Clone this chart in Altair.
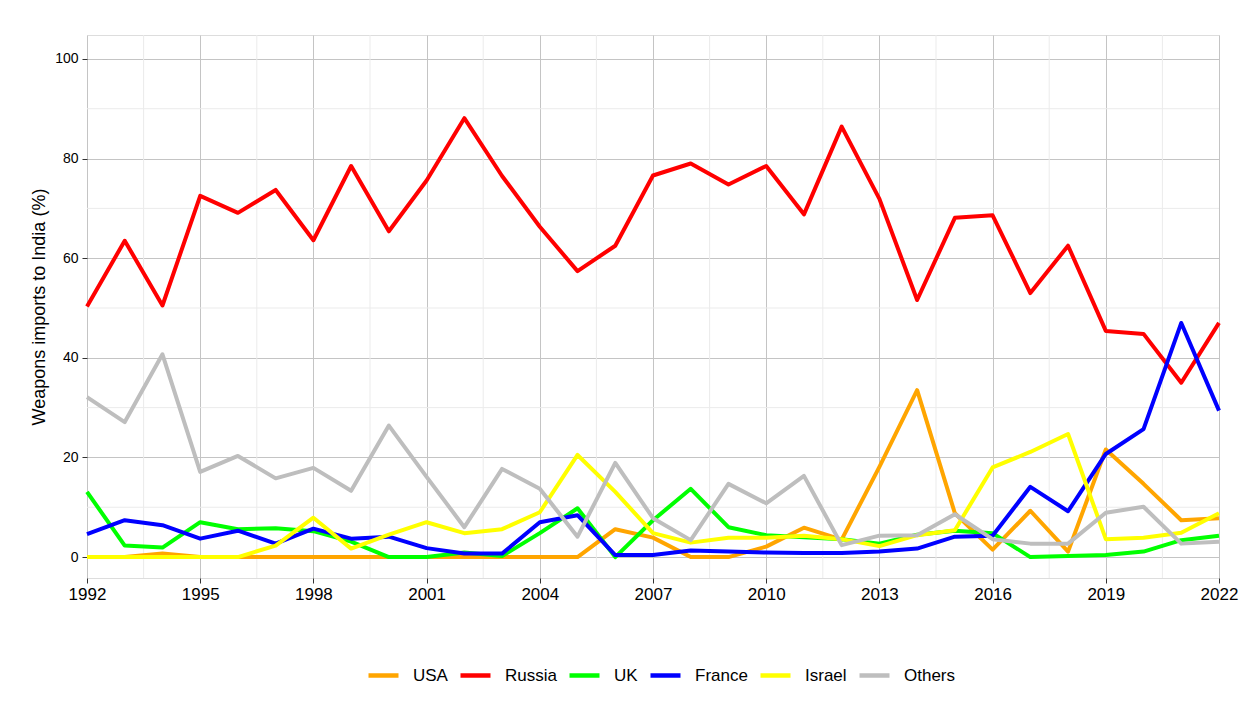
import altair as alt
import pandas as pd

years = [1992, 1993, 1994, 1995, 1996, 1997, 1998, 1999, 2000, 2001,
         2002, 2003, 2004, 2005, 2006, 2007, 2008, 2009, 2010, 2011,
         2012, 2013, 2014, 2015, 2016, 2017, 2018, 2019, 2020, 2021, 2022]

usa = [0.0, 0.0, 0.7, 0.0, 0.0, 0.0, 0.0, 0.0, 0.0, 0.0,
       0.0, 0.0, 0.0, 0.0, 5.6, 3.9, 0.0, 0.0, 2.1, 5.9,
       3.5, 18.1, 33.5, 8.8, 1.5, 9.3, 1.1, 21.6, 14.7, 7.4, 7.8]
russia = [50.3, 63.5, 50.5, 72.5, 69.1, 73.7, 63.6, 78.5, 65.4, 75.6,
          88.1, 76.5, 66.3, 57.4, 62.5, 76.6, 79.0, 74.8, 78.5, 68.8,
          86.4, 71.9, 51.6, 68.1, 68.6, 53.0, 62.5, 45.4, 44.8, 35.0, 47.0]
uk = [13.1, 2.3, 1.9, 7.0, 5.6, 5.8, 5.2, 3.1, 0.0, 0.0,
      0.9, 0.2, 4.8, 9.8, 0.0, 7.4, 13.7, 6.0, 4.4, 4.0,
      3.6, 2.7, 4.5, 5.3, 4.8, 0.0, 0.2, 0.4, 1.1, 3.4, 4.3]
france = [4.6, 7.4, 6.4, 3.7, 5.3, 2.7, 5.7, 3.7, 4.1, 1.8,
          0.7, 0.7, 7.0, 8.4, 0.4, 0.4, 1.3, 1.1, 0.9, 0.8,
          0.8, 1.1, 1.7, 4.1, 4.3, 14.1, 9.2, 20.7, 25.7, 47.0, 29.4]
israel = [0.0, 0.0, 0.0, 0.0, 0.0, 2.3, 7.9, 1.7, 4.5, 7.0,
          4.8, 5.6, 9.0, 20.5, 13.1, 4.8, 2.9, 3.9, 3.9, 4.3,
          3.6, 2.2, 4.4, 5.4, 18.0, 21.1, 24.7, 3.6, 3.9, 4.9, 8.8]
others = [32.1, 27.1, 40.7, 17.1, 20.3, 15.8, 17.9, 13.3, 26.4, 16.1,
          6.0, 17.7, 13.7, 4.1, 18.9, 7.8, 3.4, 14.7, 10.8, 16.3,
          2.4, 4.3, 4.4, 8.6, 3.6, 2.7, 2.7, 8.9, 10.1, 2.7, 3.1]

series_names = ["USA", "Russia", "UK", "France", "Israel", "Others"]
series_values = [usa, russia, uk, france, israel, others]
series_colors = ["#FFA500", "#FF0000", "#00FF00", "#0000FF", "#FFFF00", "#BEBEBE"]

x_ticks = [1992, 1995, 1998, 2001, 2004, 2007, 2010, 2013, 2016, 2019, 2022]
x_minor = [1993.5, 1996.5, 1999.5, 2002.5, 2005.5, 2008.5, 2011.5, 2014.5, 2017.5, 2020.5]
y_ticks = [0, 20, 40, 60, 80, 100]
y_minor = [10, 30, 50, 70, 90]

rows = []
for name, vals in zip(series_names, series_values):
    for yr, v in zip(years, vals):
        rows.append({"year": yr, "value": v, "country": name})
df = pd.DataFrame(rows)

FONT = "Liberation Sans"

xs = alt.Scale(domain=[1992, 2022], nice=False, zero=False)
ys = alt.Scale(domain=[-4.2, 104.8], nice=False, zero=False)

x_axis = alt.Axis(values=x_ticks, format="d", title=None, grid=True,
                  gridColor="#c4c4c4", gridWidth=1, domain=False,
                  labelFontSize=17, labelColor="#000000", labelFont=FONT,
                  tickSize=5, tickColor="#333333", labelPadding=3,
                  labelFlush=False)
y_axis = alt.Axis(values=y_ticks, title="Weapons imports to India (%)",
                  grid=True, gridColor="#c4c4c4", gridWidth=1, domain=False,
                  labelFontSize=14, labelColor="#000000", labelFont=FONT,
                  tickSize=5, tickColor="#333333", labelPadding=4,
                  titleFontSize=18, titleFont=FONT, titleFontWeight="normal",
                  titleColor="#000000", titlePadding=6)

xminor = alt.Chart(pd.DataFrame({"year": x_minor})).mark_rule(
    color="#ebebeb", strokeWidth=1).encode(
    x=alt.X("year:Q", scale=xs, axis=x_axis))
yminor = alt.Chart(pd.DataFrame({"value": y_minor})).mark_rule(
    color="#ebebeb", strokeWidth=1).encode(
    y=alt.Y("value:Q", scale=ys, axis=y_axis))

lines = alt.Chart(df).mark_line(strokeWidth=4, strokeJoin="round").encode(
    x=alt.X("year:Q", scale=xs, axis=x_axis),
    y=alt.Y("value:Q", scale=ys, axis=y_axis),
    color=alt.Color("country:N",
                    scale=alt.Scale(domain=series_names, range=series_colors),
                    sort=series_names,
                    legend=alt.Legend(title=None, orient="none",
                                      direction="horizontal",
                                      legendX=279, legendY=623,
                                      symbolType="stroke", symbolSize=900,
                                      symbolStrokeWidth=4.5,
                                      labelFontSize=17, labelFont=FONT,
                                      labelColor="#000000",
                                      labelOffset=12, columnPadding=3,
                                      gridAlign="none")),
)

chart = alt.layer(xminor, yminor, lines).properties(
    width=1132, height=543,
    autosize=alt.AutoSizeParams(type="none"),
    padding={"left": 79, "top": 27, "right": 23, "bottom": 120},
).configure_view(stroke="#333333", strokeWidth=1).configure(
    background="#ffffff", font=FONT)

chart.save("out.html", embed_options={"renderer": "svg", "actions": False})
